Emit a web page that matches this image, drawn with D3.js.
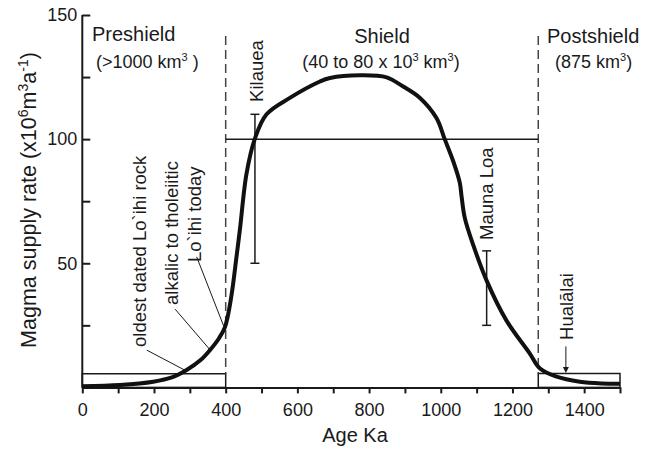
<!DOCTYPE html>
<html>
  <head>
    <meta charset="utf-8">
    <title>Magma supply rate</title>
    <script src="https://d3js.org/d3.v7.min.js"></script>
    <style>
      body { margin: 0; background: #fff; }
      svg { font-family: "Liberation Sans", Arial, sans-serif; fill: #1a1a1a; }
      .axis text { font-size: 18px; fill: #1a1a1a; }
      .axis line, .axis path { stroke: #1a1a1a; }
    </style>
  </head>
  <body>
    <svg id="svg" width="653" height="449"></svg>
    <script>
      // data: age (Ka) vs magma supply rate (x10^6 m3/a)
      var ages  = [0, 105, 198, 250, 291, 330, 356, 380, 398, 415, 430, 440, 458, 481, 514, 579, 663, 691, 774, 849, 895, 942, 988, 1011, 1035, 1053, 1058, 1067, 1090, 1128, 1183, 1248, 1276, 1323, 1388, 1450, 1500];
      var rates = [0.5, 1, 2.3, 4, 7, 11, 15, 19.5, 24.3, 36, 52.4, 64, 86, 100, 110, 116.6, 123.2, 124.6, 125.7, 124.9, 121.2, 116.6, 108.5, 100, 91, 82.5, 77, 68.3, 57.6, 43, 27, 13.7, 7.7, 4.3, 2.3, 1.6, 1.5];
      var xTicks = d3.range(0, 1501, 100);
      var yTicks = [25, 50, 75, 100, 125, 150];
      var phaseBounds = [400, 1272];
      var shieldLevel = 100;
      var preshieldBox = [0, 400, 5.5];
      var postshieldBox = [1272, 1500, 5.6];
      // error bars: [age, low, high]
      var errorBars = [[481.6, 50, 110], [1128, 25, 55]];
      // rotated labels: [text, age, rate at text start]
      var labels = [["oldest dated Lo`ihi rock", 179, 16.3], ["alkalic to tholeiitic", 267, 33.2], ["Lo`ihi today", 332, 50.5],
                    ["Kilauea", 504, 115], ["Mauna Loa", 1145, 59.4], ["Hualālai", 1368, 19.1]];
      // leader lines: [age1, rate1, age2, rate2]
      var leaders = [[180, 15, 288, 6.8], [259, 31.5, 356, 15.2], [319, 52.6, 395, 24.5]];
      var hualalaiArrow = [1349, 16.5, 5.8];

      var svg = d3.select("#svg");
      var x = d3.scaleLinear().domain([0, 1500]).range([82.3, 620]);
      var y = d3.scaleLinear().domain([0, 150]).range([387.4, 15]);

      // axes
      svg.append("g").attr("class", "axis")
        .attr("transform", "translate(" + x(0) + ",0)")
        .call(d3.axisLeft(y).tickValues(yTicks).tickSizeInner(-8).tickSizeOuter(0).tickPadding(5)
          .tickFormat(function(d) { return d % 50 === 0 ? d : ""; }))
        .call(function(g) { g.selectAll("line, path").attr("stroke-width", 2); g.select(".domain").attr("d", "M0," + y(150) + "V" + y(0)); });
      svg.append("g").attr("class", "axis")
        .attr("transform", "translate(0," + y(0) + ")")
        .call(d3.axisBottom(x).tickValues(xTicks).tickSizeInner(6).tickSizeOuter(0).tickPadding(10)
          .tickFormat(function(d) { return d % 200 === 0 ? d : ""; }))
        .call(function(g) { g.selectAll("line, path").attr("stroke-width", 2); });

      // axis titles
      svg.append("text").attr("x", 355).attr("y", 442).attr("text-anchor", "middle")
        .style("font-size", "20px").text("Age Ka");
      var yt = svg.append("text").attr("transform", "translate(36,200) rotate(-90)")
        .attr("text-anchor", "middle").style("font-size", "21.5px");
      yt.append("tspan").text("Magma supply rate (x10");
      yt.append("tspan").attr("dy", -8).style("font-size", "14px").text("6");
      yt.append("tspan").attr("dy", 8).text("m");
      yt.append("tspan").attr("dy", -8).style("font-size", "14px").text("3");
      yt.append("tspan").attr("dy", 8).text("a");
      yt.append("tspan").attr("dy", -8).style("font-size", "14px").text("-1");
      yt.append("tspan").attr("dy", 8).text(")");

      // phase boxes and boundaries
      [preshieldBox, postshieldBox].forEach(function(b) {
        svg.append("rect").attr("x", x(b[0])).attr("y", y(b[2]))
          .attr("width", x(b[1]) - x(b[0])).attr("height", y(0) - y(b[2]))
          .attr("fill", "none").attr("stroke", "#1a1a1a").attr("stroke-width", 1.5);
      });
      svg.selectAll(".bound").data(phaseBounds).enter().append("line")
        .attr("x1", function(d) { return x(d); }).attr("x2", function(d) { return x(d); })
        .attr("y1", 36).attr("y2", y(5.5))
        .attr("stroke", "#444").attr("stroke-width", 1.5).attr("stroke-dasharray", "9,5");
      svg.append("line").attr("x1", x(phaseBounds[0])).attr("x2", x(phaseBounds[1]))
        .attr("y1", y(shieldLevel)).attr("y2", y(shieldLevel))
        .attr("stroke", "#1a1a1a").attr("stroke-width", 1.5);

      // error bars
      errorBars.forEach(function(e) {
        var g = svg.append("g").attr("stroke", "#1a1a1a").attr("stroke-width", 1.5);
        g.append("line").attr("x1", x(e[0])).attr("x2", x(e[0])).attr("y1", y(e[1])).attr("y2", y(e[2]));
        [e[1], e[2]].forEach(function(v) {
          g.append("line").attr("x1", x(e[0]) - 4.5).attr("x2", x(e[0]) + 4.5).attr("y1", y(v)).attr("y2", y(v));
        });
      });

      // leaders and arrow
      leaders.forEach(function(l) {
        svg.append("line").attr("x1", x(l[0])).attr("y1", y(l[1])).attr("x2", x(l[2])).attr("y2", y(l[3]))
          .attr("stroke", "#1a1a1a").attr("stroke-width", 1);
      });
      svg.append("line").attr("x1", x(hualalaiArrow[0])).attr("x2", x(hualalaiArrow[0]))
        .attr("y1", y(hualalaiArrow[1])).attr("y2", y(hualalaiArrow[2]) - 5)
        .attr("stroke", "#1a1a1a").attr("stroke-width", 1);
      svg.append("path")
        .attr("d", "M" + (x(hualalaiArrow[0]) - 3) + "," + (y(hualalaiArrow[2]) - 6) + "L" + (x(hualalaiArrow[0]) + 3) + "," + (y(hualalaiArrow[2]) - 6) + "L" + x(hualalaiArrow[0]) + "," + y(hualalaiArrow[2]) + "Z")
        .attr("fill", "#1a1a1a");

      // curve
      var line = d3.line().x(function(d, i) { return x(ages[i]); }).y(function(d) { return y(d); })
        .curve(d3.curveCatmullRom.alpha(0.5));
      svg.append("path").attr("d", line(rates)).attr("fill", "none")
        .attr("stroke", "#111").attr("stroke-width", 4).attr("stroke-linejoin", "round");

      // rotated labels
      labels.forEach(function(l) {
        svg.append("text").attr("transform", "translate(" + x(l[1]) + "," + y(l[2]) + ") rotate(-90)")
          .style("font-size", "18.5px").text(l[0]);
      });

      // phase titles
      function sup(t, parts, size) {
        parts.forEach(function(p, i) {
          var s = t.append("tspan").text(p);
          if (i % 2 === 1) s.attr("dy", -7).style("font-size", size + "px");
          else if (i > 0) s.attr("dy", 7);
        });
      }
      svg.append("text").attr("x", 92).attr("y", 41).style("font-size", "20px").text("Preshield");
      sup(svg.append("text").attr("x", 96).attr("y", 68).style("font-size", "18px"), ["(>1000 km", "3", " )"], 11);
      svg.append("text").attr("x", 382).attr("y", 43).attr("text-anchor", "middle").style("font-size", "20px").text("Shield");
      sup(svg.append("text").attr("x", 381).attr("y", 68).attr("text-anchor", "middle").style("font-size", "18px"), ["(40 to 80 x 10", "3", " km", "3", ")"], 11);
      svg.append("text").attr("x", 547).attr("y", 43).style("font-size", "20px").text("Postshield");
      sup(svg.append("text").attr("x", 555).attr("y", 68).style("font-size", "18px"), ["(875 km", "3", ")"], 11);
    </script>
  </body>
</html>
